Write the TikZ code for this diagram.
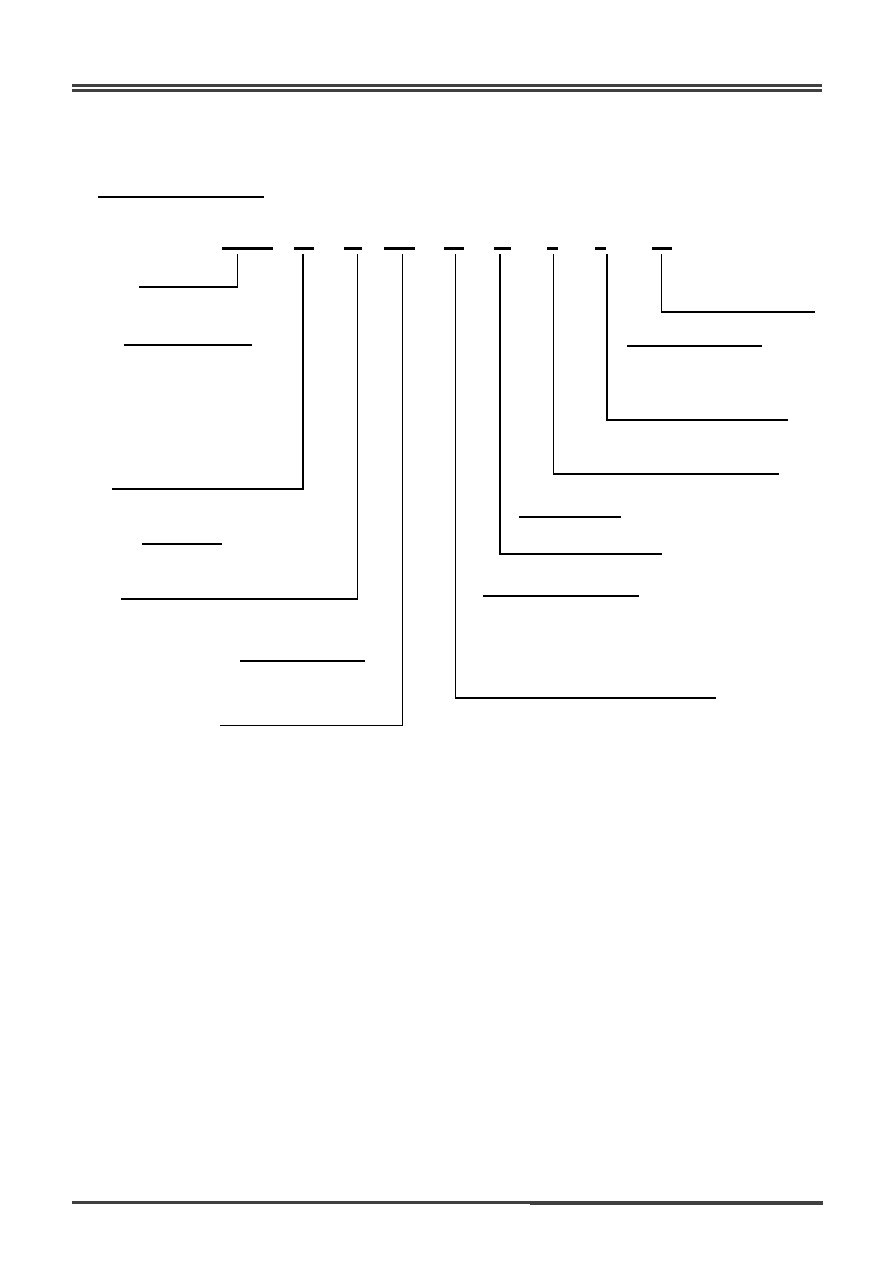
\documentclass[tikz,border=0pt]{standalone}
\usepackage{tikz}
\tikzstyle{rule} = [line width=1.8pt, draw=black!75]
\tikzstyle{field} = [line width=1.8pt, draw=black]
\tikzstyle{heading} = [line width=1.8pt, draw=black]
\tikzstyle{subhead} = [line width=0.8pt, draw=black]
\tikzstyle{leader} = [line width=0.8pt, draw=black]

\begin{document}
\begin{tikzpicture}[x=0.6667pt, y=-0.6667pt]
		\useasboundingbox (0,0) rectangle (892,1263);
		% Page rules
		\draw [rule] (72,85.3) -- (822,85.3);
		\draw [rule] (72,90.3) -- (822,90.3);
		\draw [rule, line width=2pt] (72,1202.5) -- (530,1202.5);
		\draw [rule, line width=2.7pt] (530,1203) -- (823,1203);
		% Title
		\draw [heading] (98,197) -- (264,197);
		% Code fields and their leaders
		\foreach \n/\a/\b/\x/\y/\e in {1/222/273/237.5/287/139, 2/294/314/303/489/112,
			3/344/362/357.5/599/121, 4/384/415/402.5/725.5/220, 5/444/464/455.5/698/716,
			6/494/511/500/554/662, 7/547/558/553.5/474/779, 8/595/606/607/420/788,
			9/652/672/661.5/312/815} {
			\draw [field] (\a,248.7) -- (\b,248.7);
			\coordinate (f\n) at (\x,254);
			\coordinate (e\n) at (\e,\y);
			\draw [leader] (f\n) |- (e\n);
		}
		% Headings beside the leaders
		\draw [heading] (124,345) -- (252,345);
		\draw [subhead] (142,544) -- (222,544);
		\draw [heading] (240,661) -- (365,661);
		\draw [subhead] (627,346) -- (762,346);
		\draw [subhead] (519,517) -- (621,517);
		\draw [subhead] (483,596) -- (639,596);
	\end{tikzpicture}
\end{document}
